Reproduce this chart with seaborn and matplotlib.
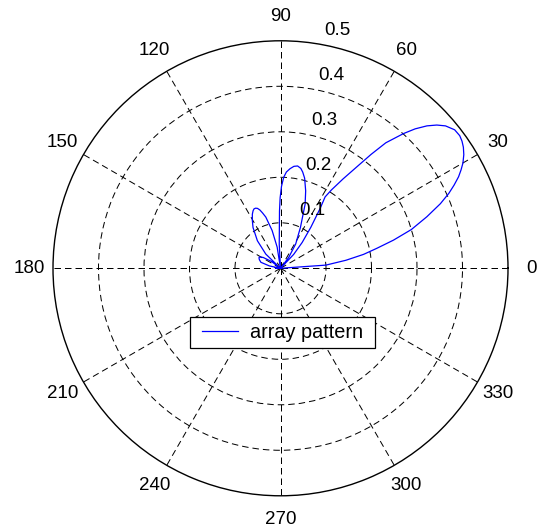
import numpy as np
import pandas as pd
import matplotlib
matplotlib.use("Agg")
import matplotlib.pyplot as plt
import seaborn as sns
from matplotlib.legend_handler import HandlerLine2D
from matplotlib.lines import Line2D

# Array factor magnitude traced around the upper half-plane (angle in degrees, magnitude)
theta_deg = [0, 4, 7, 9.5, 11.7, 14, 16.5, 19.4, 22, 24, 25.6, 27.2, 28.6, 30, 31.8, 33.5, 35, 36.5, 38.5,
             40.8, 42.5, 44.2, 46, 47.6, 50, 51.5, 53, 55, 57, 58, 56.5, 53.5, 50, 46.5, 45,
             53, 58, 64, 69, 72, 75, 77, 78.5, 80.5, 82.5, 84.5, 86.5, 88, 89.3, 90.3, 91, 93, 95,
             99, 102.5, 106, 108, 109.5, 111, 112.5, 114, 115.5, 117.5, 120.5, 124, 130, 136, 138,
             143, 148, 150.5, 152.5, 155, 158, 163, 168, 170,
             173, 176, 180]
radius = [0, 0.10, 0.145, 0.185, 0.216, 0.256, 0.30, 0.341, 0.379, 0.405, 0.423, 0.44, 0.452, 0.463, 0.474, 0.482, 0.487, 0.49, 0.489,
          0.479, 0.466, 0.449, 0.426, 0.401, 0.36, 0.32, 0.28, 0.24, 0.205, 0.185, 0.158, 0.112, 0.074, 0.042, 0,
          0.030, 0.063, 0.100, 0.151, 0.179, 0.205, 0.217, 0.224, 0.228, 0.226, 0.220, 0.212, 0.200, 0.180, 0.155, 0.126, 0.053, 0,
          0.047, 0.085, 0.117, 0.128, 0.136, 0.141, 0.143, 0.143, 0.140, 0.134, 0.122, 0.108, 0.079, 0.045, 0,
          0.025, 0.045, 0.050, 0.053, 0.052, 0.050, 0.045, 0.025, 0,
          0.012, 0.010, 0]

angle_ticks = list(range(0, 360, 30))
radial_ticks = [0.1, 0.2, 0.3, 0.4, 0.5]
series_name = "array pattern"

plt.rcParams["font.family"] = ["Liberation Sans", "DejaVu Sans"]
plt.rcParams["font.size"] = 13.5

df = pd.DataFrame({"theta": np.deg2rad(theta_deg), "r": radius})

fig = plt.figure(figsize=(5.37, 5.31), dpi=100)
ax = fig.add_axes([0.0987, 0.0663, 0.8473, 0.8569], projection="polar")

rmax = radial_ticks[-1]
ax.set_ylim(0, rmax)
ax.set_thetagrids(angle_ticks)
ax.set_rgrids(radial_ticks[:-1])
ax.set_xticklabels([])
ax.set_yticklabels([])
ax.grid(True, color="black", linestyle=(0, (6.5, 4)), linewidth=0.72)
ax.spines["polar"].set_color("black")
ax.spines["polar"].set_linewidth(1.0)

sns.lineplot(data=df, x="theta", y="r", ax=ax, sort=False, estimator=None,
             color="#0000ff", linewidth=0.9, label=series_name, legend=False, zorder=3)
ax.set_xlabel("")
ax.set_ylabel("")

# angle labels just outside the rim
for a in angle_ticks:
    ax.text(np.deg2rad(a), 1.105 * rmax, str(a), ha="center", va="center", clip_on=False)

# magnitude labels along the 82 degree ray
for rv in radial_ticks:
    ax.annotate(f"{rv:g}", xy=(np.deg2rad(82), rv + rmax / 100), xytext=(8.5, 1.5),
                textcoords="offset points", ha="left", va="bottom", annotation_clip=False)

handle = Line2D([], [], color="#0000ff", linewidth=0.9)
x0, y0, x1, y1 = 190 / 537, 1 - 349 / 531, 375 / 537, 1 - 317 / 531
leg = fig.legend([handle], [series_name], loc="upper left", mode="expand",
                 bbox_to_anchor=(x0, y0, x1 - x0, y1 - y0), bbox_transform=fig.transFigure,
                 fancybox=False, framealpha=1, edgecolor="black", borderpad=0.3,
                 fontsize=14.3, handlelength=2.1, handletextpad=0.6, borderaxespad=0,
                 handler_map={Line2D: HandlerLine2D(xpad=0.32)})
leg.get_frame().set_linewidth(0.9)

fig.savefig("out.png", dpi=100, facecolor="white")
